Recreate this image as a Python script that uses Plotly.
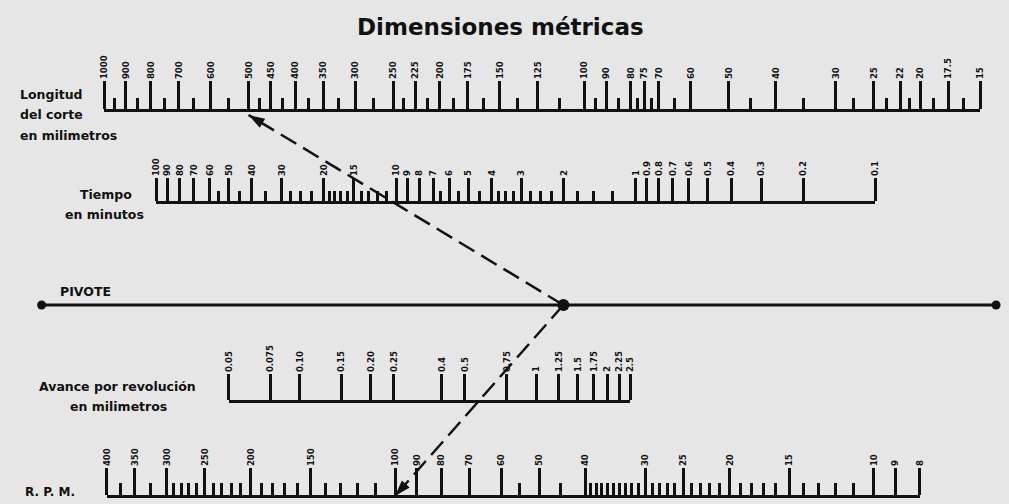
import math
import plotly.graph_objects as go

# ---------------- data ----------------
longitud_vals = [1000, 900, 800, 700, 600, 500, 450, 400, 350, 300, 250, 225, 200, 175,
                 150, 125, 100, 90, 80, 75, 70, 60, 50, 40, 30, 25, 22, 20, 17.5, 15]
longitud_minor = [950, 850, 750, 650, 550, 475, 425, 375, 325, 275, 237.5, 212.5, 187.5,
                  162.5, 137.5, 112.5, 95, 85, 77.5, 72.5, 65, 45, 35, 27.5, 23.5, 21,
                  18.75, 16.25]
tiempo_vals = [100, 90, 80, 70, 60, 50, 40, 30, 20, 15, 10, 9, 8, 7, 6, 5, 4, 3, 2, 1,
               0.9, 0.8, 0.7, 0.6, 0.5, 0.4, 0.3, 0.2, 0.1]
tiempo_minor = [55, 45, 35, 27.5, 25, 22.5, 19, 18, 17, 16, 14, 13, 12, 11, 6.5, 5.5, 4.5,
                3.75, 3.5, 3.25, 2.75, 2.5, 2.25, 1.75, 1.5, 1.25]
avance_vals = [0.05, 0.075, 0.10, 0.15, 0.20, 0.25, 0.4, 0.5, 0.75, 1, 1.25, 1.5, 1.75,
               2, 2.25, 2.5]
avance_text = ["0.05", "0.075", "0.10", "0.15", "0.20", "0.25", "0.4", "0.5", "0.75", "1",
               "1.25", "1.5", "1.75", "2", "2.25", "2.5"]
avance_minor = []
rpm_vals = [400, 350, 300, 250, 200, 150, 100, 90, 80, 70, 60, 50, 40, 30, 25, 20, 15,
            10, 9, 8]
rpm_minor = [375, 325, 290, 280, 270, 260, 240, 230, 220, 210, 190, 180, 170, 160, 140,
             130, 120, 110, 55, 45, 39, 38, 37, 36, 35, 34, 33, 32, 31, 29, 28, 27, 26,
             24, 23, 22, 21, 19, 18, 17, 16, 14, 13, 12, 11]

# worked example drawn with the dashed line
ejemplo_longitud = 500
ejemplo_tiempo = 10
ejemplo_rpm = 100

# ---------------- layout settings ----------------
W, H = 1009, 504
BG = "#e6e6e6"
INK = "#111111"
TICKFONT = dict(family="DejaVu Sans Condensed, DejaVu Sans", size=9.5, color=INK,
                weight="bold")

scales = [
    dict(vals=longitud_vals, text=[f"{v:g}" for v in longitud_vals], minor=longitud_minor,
         x0=99, x1=985, y=112, major=28, minor_len=11),
    dict(vals=tiempo_vals, text=[f"{v:g}" for v in tiempo_vals], minor=tiempo_minor,
         x0=152, x1=879, y=204, major=23, minor_len=10),
    dict(vals=avance_vals, text=avance_text, minor=avance_minor,
         x0=225, x1=631, y=403, major=26, minor_len=10),
    dict(vals=rpm_vals, text=[f"{v:g}" for v in rpm_vals], minor=rpm_minor,
         x0=102, x1=924, y=498, major=27, minor_len=12),
]
PIVOT_Y = 305
PIVOT_X0, PIVOT_X1 = 36, 1001

fig = go.Figure()

layout = dict(
    width=W, height=H, autosize=False,
    margin=dict(l=0, r=0, t=0, b=0, pad=0),
    paper_bgcolor=BG, plot_bgcolor="rgba(0,0,0,0)",
    showlegend=False,
    xaxis=dict(domain=[0, 1], range=[0, W], visible=False, fixedrange=True),
    yaxis=dict(domain=[0, 1], range=[H, 0], visible=False, fixedrange=True),
)

for i, s in enumerate(scales):
    n = i + 2
    a, b = math.log10(s["vals"][0]), math.log10(s["vals"][-1])
    eps = 1e-4 * (b - a)
    f = 1 - s["y"] / H
    layout[f"xaxis{n}"] = dict(
        domain=[s["x0"] / W, s["x1"] / W], type="log", range=[a - eps, b + eps],
        anchor=f"y{n}", side="top", showline=True, linecolor=INK, linewidth=3,
        ticks="outside", ticklen=s["major"], tickwidth=2.5, tickcolor=INK,
        tickmode="array", tickvals=s["vals"], ticktext=s["text"], tickangle=-90,
        tickfont=TICKFONT, showgrid=False, zeroline=False, fixedrange=True,
        minor=dict(tickmode="array", tickvals=s["minor"],
                   ticks="outside" if s["minor"] else "", ticklen=s["minor_len"],
                   tickwidth=2.5, tickcolor=INK, showgrid=False),
    )
    layout[f"yaxis{n}"] = dict(domain=[max(0, f - 0.01), f], range=[0, 1], visible=False,
                               fixedrange=True)
    fig.add_trace(go.Scatter(x=s["vals"], y=[0.5] * len(s["vals"]), xaxis=f"x{n}",
                             yaxis=f"y{n}", mode="markers",
                             marker=dict(size=2, opacity=0), hoverinfo="skip"))


def pos(s, v):
    a, b = math.log10(s["vals"][0]), math.log10(s["vals"][-1])
    return s["x0"] + (math.log10(v) - a) / (b - a) * (s["x1"] - s["x0"])


# pivot line
fig.add_trace(go.Scatter(x=[PIVOT_X0, PIVOT_X1], y=[PIVOT_Y, PIVOT_Y], mode="lines+markers",
                         line=dict(color=INK, width=3),
                         marker=dict(size=9, color=INK), cliponaxis=False,
                         hoverinfo="skip"))

# worked example: longitud -> tiempo -> pivote -> rpm
ax, ay = pos(scales[0], ejemplo_longitud), scales[0]["y"] + 3
bx, by = pos(scales[1], ejemplo_tiempo), scales[1]["y"]
t = (PIVOT_Y - ay) / (by - ay)
px_ = ax + t * (bx - ax)
dx, dy = pos(scales[3], ejemplo_rpm), scales[3]["y"] - 2

for (x1, y1) in [(ax, ay), (dx, dy)]:
    fig.add_trace(go.Scatter(x=[px_, x1], y=[PIVOT_Y, y1], mode="lines",
                             line=dict(color=INK, width=2.5, dash="18px,8px"),
                             cliponaxis=False, hoverinfo="skip"))
    fig.add_trace(go.Scatter(x=[px_, x1], y=[PIVOT_Y, y1], mode="markers",
                             marker=dict(symbol="arrow", size=[0, 17], color=INK,
                                         opacity=1, line=dict(width=0),
                                         angleref="previous"),
                             cliponaxis=False, hoverinfo="skip"))

fig.add_trace(go.Scatter(x=[px_], y=[PIVOT_Y], mode="markers",
                         marker=dict(size=12, color=INK), hoverinfo="skip"))

LBL = dict(family="DejaVu Sans", size=12.5, color=INK)
annots = [
    ("<b>Dimensiones métricas</b>", 500, 27, "center", 23),
    ("<b>Longitud</b>", 12, 94, "left", 12.5),
    ("<b>del corte</b>", 12, 114, "left", 12.5),
    ("<b>en milimetros</b>", 12, 135, "left", 12.5),
    ("<b>Tiempo</b>", 101, 194, "center", 12.5),
    ("<b>en minutos</b>", 100, 214, "center", 12.5),
    ("<b>PIVOTE</b>", 53, 291, "left", 12.5),
    ("<b>Avance por revolución</b>", 113, 386, "center", 12.5),
    ("<b>en milimetros</b>", 114, 406, "center", 12.5),
    ("<b>R. P. M.</b>", 17, 492, "left", 12),
]
layout["annotations"] = [
    dict(text=txt, x=x, y=y, xref="x", yref="y", xanchor=xa, yanchor="middle",
         showarrow=False, font=dict(LBL, size=sz))
    for txt, x, y, xa, sz in annots
]

fig.update_layout(**layout)
fig.write_html(
    "out.html",
    config={"displayModeBar": False},
    post_script="document.body.style.margin='0';document.body.style.overflow='hidden';"
                "document.body.style.background='" + BG + "';",
)
